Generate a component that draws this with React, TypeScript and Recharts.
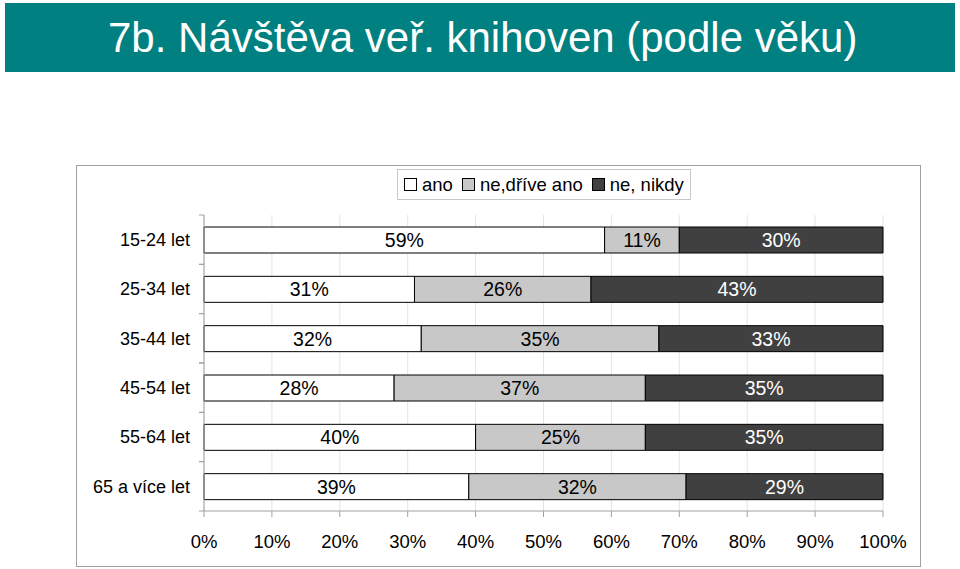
import React from 'react'
import { BarChart, Bar, XAxis, YAxis, CartesianGrid, LabelList } from 'recharts'

const categories = ['15-24 let', '25-34 let', '35-44 let', '45-54 let', '55-64 let', '65 a více let']
const ano = [59, 31, 32, 28, 40, 39]
const neDrive = [11, 26, 35, 37, 25, 32]
const neNikdy = [30, 43, 33, 35, 35, 29]
const xTicks = [0, 10, 20, 30, 40, 50, 60, 70, 80, 90, 100]

const series = [
  { key: 'ano', name: 'ano', color: '#ffffff', text: '#000000' },
  { key: 'neDrive', name: 'ne,dříve ano', color: '#c8c8c8', text: '#000000' },
  { key: 'neNikdy', name: 'ne, nikdy', color: '#404040', text: '#ffffff' },
]

const data = categories.map((c, i) => ({ cat: c, ano: ano[i], neDrive: neDrive[i], neNikdy: neNikdy[i] }))

const FONT = '"Liberation Sans", Arial, sans-serif'

function CatTick(props: any) {
  const { x, y, payload } = props
  const off = payload.offset || 0
  return (
    <g>
      <line x1={x - 5} x2={x} y1={y - off} y2={y - off} stroke="#a0a0a0" />
      <line x1={x - 5} x2={x} y1={y + off} y2={y + off} stroke="#a0a0a0" />
      <text x={x - 14} y={y} dy="0.35em" textAnchor="end" fontSize={18} fill="#000" fontFamily={FONT}>
        {payload.value}
      </text>
    </g>
  )
}

export default function App() {
  return (
    <div style={{ position: 'fixed', left: 0, top: 0, width: 960, height: 569, background: 'white', fontFamily: FONT }}>
      <div style={{ position: 'absolute', left: 5, top: 3, width: 950, height: 69, background: '#008080' }}>
        <div style={{ position: 'absolute', left: 103, top: 11, fontSize: 42, color: 'white', whiteSpace: 'nowrap', lineHeight: '48px' }}>
          7b. Návštěva veř. knihoven (podle věku)
        </div>
      </div>

      <div style={{ position: 'absolute', left: 76, top: 165, width: 843, height: 400, border: '1px solid #a0a0a0' }} />

      <div style={{ position: 'absolute', left: 397, top: 169, width: 286, height: 29, border: '1px solid #c8c8c8', display: 'flex', alignItems: 'center', paddingLeft: 6, gap: 9, fontSize: 18.5, boxSizing: 'content-box' }}>
        {series.map(s => (
          <div key={s.key} style={{ display: 'flex', alignItems: 'center', gap: 5 }}>
            <div style={{ width: 11, height: 11, background: s.color, border: '1px solid #000' }} />
            <span>{s.name}</span>
          </div>
        ))}
      </div>

      <div style={{ position: 'absolute', left: 0, top: 0 }}>
        <BarChart
          width={960}
          height={569}
          data={data}
          layout="vertical"
          margin={{ top: 215, right: 77, bottom: 0, left: 0 }}
        >
          <CartesianGrid vertical horizontal={false} stroke="#e4e4e4" />
          <XAxis
            type="number"
            domain={[0, 100]}
            ticks={xTicks}
            tickFormatter={(v: number) => `${v}%`}
            height={58}
            axisLine={{ stroke: '#a0a0a0' }}
            tickLine={{ stroke: '#a0a0a0' }}
            tickSize={6}
            tickMargin={18}
            tick={{ fontSize: 18.5, fill: '#000', fontFamily: FONT }}
            interval={0}
          />
          <XAxis xAxisId="top" orientation="top" type="number" domain={[0, 100]} height={0} tick={false} tickLine={false} axisLine={{ stroke: '#a0a0a0' }} />
          <YAxis
            type="category"
            dataKey="cat"
            width={204}
            axisLine={{ stroke: '#a0a0a0' }}
            tickLine={false}
            tickSize={0}
            tickMargin={0}
            tick={<CatTick />}
            interval={0}
          />
          <YAxis yAxisId="right" orientation="right" type="category" dataKey="cat" width={0} tick={false} tickLine={false} axisLine={{ stroke: '#a0a0a0' }} />
          {series.map(s => (
            <Bar key={s.key} dataKey={s.key} name={s.name} stackId="a" fill={s.color} stroke="#000" strokeWidth={1} barSize={26} isAnimationActive={false}>
              <LabelList
                dataKey={s.key}
                position="center"
                formatter={(v: any) => `${v}%`}
                fill={s.text}
                fontSize={19.5}
                fontFamily={FONT}
              />
            </Bar>
          ))}
        </BarChart>
      </div>
    </div>
  )
}
